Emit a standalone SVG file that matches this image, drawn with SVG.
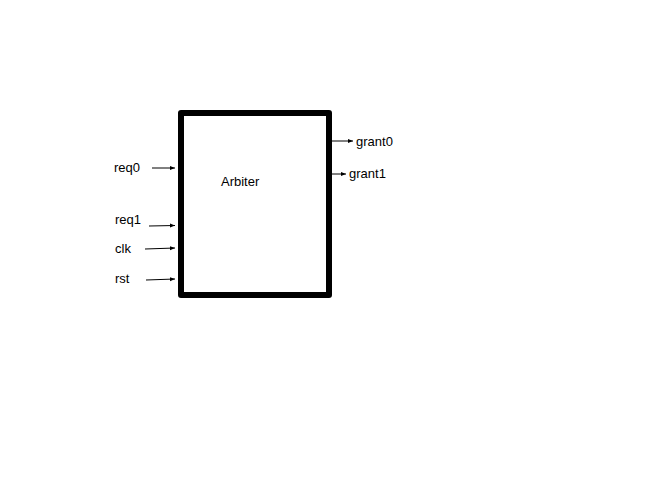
<svg xmlns="http://www.w3.org/2000/svg" width="650" height="488" viewBox="0 0 650 488">
<defs>
<marker id="ah" viewBox="0 0 10 10" refX="10" refY="5" markerWidth="5" markerHeight="5" orient="auto" markerUnits="userSpaceOnUse"><path d="M0,1 L10,5 L0,9 z" fill="#000"/></marker>
<style>
text{font-family:"Liberation Sans",Arial,sans-serif;font-size:13px;fill:#000}
.c{stroke:#000;stroke-width:1;fill:none;marker-end:url(#ah)}
</style>
</defs>
<rect width="650" height="488" fill="#fff"/>
<g id="arbiter">
<rect x="181" y="113" width="148" height="182" fill="#fff" stroke="#000" stroke-width="6" stroke-linejoin="round"/>
<text x="221" y="186">Arbiter</text>
</g>
<g id="labels">
<text x="114" y="172">req0</text>
<text x="115" y="224">req1</text>
<text x="115" y="253">clk</text>
<text x="115" y="283">rst</text>
<text x="356" y="146">grant0</text>
<text x="349" y="178">grant1</text>
</g>
<g id="connectors">
<line class="c" x1="152" y1="168" x2="175" y2="168"/>
<line class="c" x1="149" y1="226" x2="175" y2="225.5"/>
<line class="c" x1="145" y1="249" x2="175" y2="248"/>
<line class="c" x1="146" y1="280" x2="175" y2="279"/>
<line class="c" x1="332" y1="141" x2="353" y2="141"/>
<line class="c" x1="332" y1="174" x2="346" y2="174"/>
</g>
</svg>
